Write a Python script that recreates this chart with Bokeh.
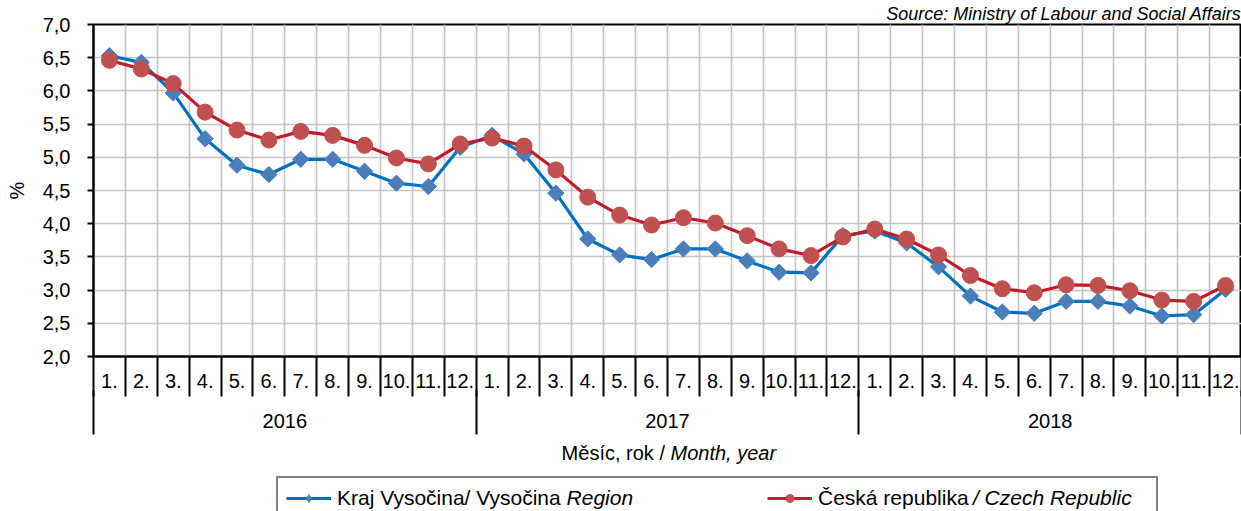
import numpy as np
from bokeh.plotting import figure
from bokeh.layouts import column
from bokeh.models import (Range1d, LinearAxis, FixedTicker, Grid, Legend, LegendItem,
                          Label, CustomJSTickFormatter)
from bokeh.embed import file_html
from bokeh.resources import INLINE

# ---------------- data ----------------
years = ["2016", "2017", "2018"]
months = ["1.", "2.", "3.", "4.", "5.", "6.", "7.", "8.", "9.", "10.", "11.", "12."]
vysocina = [6.53, 6.43, 5.97, 5.28, 4.88, 4.74, 4.97, 4.97, 4.79, 4.61, 4.56, 5.15,
            5.33, 5.05, 4.46, 3.77, 3.53, 3.46, 3.62, 3.62, 3.44, 3.27, 3.26, 3.82,
            3.89, 3.71, 3.35, 2.91, 2.67, 2.65, 2.83, 2.83, 2.76, 2.61, 2.63, 3.01]
czech = [6.46, 6.33, 6.11, 5.68, 5.41, 5.26, 5.39, 5.33, 5.18, 4.99, 4.90, 5.20,
         5.29, 5.17, 4.81, 4.40, 4.13, 3.98, 4.09, 4.01, 3.82, 3.62, 3.52, 3.80,
         3.92, 3.77, 3.53, 3.22, 3.02, 2.96, 3.08, 3.07, 2.99, 2.85, 2.83, 3.07]
y_ticks = [2.0, 2.5, 3.0, 3.5, 4.0, 4.5, 5.0, 5.5, 6.0, 6.5, 7.0]
# series names: upright part, italic part
series_upright = ["Kraj Vysočina/ Vysočina", "Česká republika"]
series_italic = ["Region", "/ Czech Republic"]
x_title = ["Měsíc, rok / ", "Month, year"]
y_title = "%"
source_text = "Source: Ministry of Labour and Social Affairs"

FONT = "Liberation Sans"
FS = "20px"
LEG_FS = 21
BLUE_LINE, BLUE_MARK = "#0070C0", "#4A7EBB"
RED_LINE, RED_MARK = "#C21A2C", "#C0504D"
n = len(vysocina)
n_years = len(years)
per_year = len(months)
month_labels = months * n_years
x = np.arange(n) + 0.5
boundaries = list(range(n + 1))
year_centers = [per_year * i + per_year / 2 for i in range(n_years)]
year_bounds = [per_year * i for i in range(n_years + 1)]

# Arial / Liberation Sans advance widths (per 1000 em) for the upright legend parts
ADV = {"K": 667, "r": 333, "a": 556, "j": 222, " ": 278, "V": 667, "y": 500, "s": 500,
       "o": 556, "č": 500, "i": 222, "n": 556, "/": 278, "Č": 722, "e": 556, "k": 500,
       "á": 556, "p": 556, "u": 556, "b": 556, "l": 222}


def text_width(s, size):
    return sum(ADV.get(ch, 556) for ch in s) / 1000.0 * size


p = figure(frame_width=1148, frame_height=332,
           x_range=Range1d(0, n), y_range=Range1d(y_ticks[0], y_ticks[-1]),
           output_backend="svg", toolbar_location=None,
           x_axis_location=None, y_axis_location=None,
           min_border_left=93, min_border_top=24, min_border_right=0, min_border_bottom=80)
p.background_fill_color = "white"
p.border_fill_color = "white"
p.outline_line_color = "black"
p.outline_line_width = 2

# source line as the title, right aligned
p.title.text = source_text
p.title.align = "right"
p.title.text_font = FONT
p.title.text_font_size = "18px"
p.title.text_font_style = "italic"
p.title.text_color = "black"
p.title.standoff = 1
p.title.offset = 0

# grids
p.add_layout(Grid(dimension=0, ticker=FixedTicker(ticks=boundaries),
                  grid_line_color="#c4c4c4", grid_line_width=1.6))
p.add_layout(Grid(dimension=1, ticker=FixedTicker(ticks=y_ticks),
                  grid_line_color="#c4c4c4", grid_line_width=1.6))

# y axis
yax = LinearAxis(ticker=FixedTicker(ticks=y_ticks),
                 formatter=CustomJSTickFormatter(code="return tick.toFixed(1).replace('.', ',');"),
                 axis_label=y_title)
yax.axis_line_color = "black"
yax.axis_line_width = 2
yax.major_tick_out = 6
yax.major_tick_in = 0
yax.major_tick_line_width = 2
yax.minor_tick_line_color = None
yax.major_label_standoff = 17
yax.major_label_text_font = FONT
yax.major_label_text_font_size = FS
yax.major_label_text_color = "black"
yax.axis_label_text_font = FONT
yax.axis_label_text_font_size = FS
yax.axis_label_text_font_style = "normal"
yax.axis_label_text_color = "black"
yax.axis_label_standoff = 12
p.add_layout(yax, "left")

# month axis
max_ = LinearAxis(ticker=FixedTicker(ticks=list(x), minor_ticks=boundaries),
                  formatter=CustomJSTickFormatter(args=dict(labels=month_labels),
                                                  code="return labels[Math.floor(tick)];"))
max_.axis_line_color = "black"
max_.axis_line_width = 2
max_.major_tick_out = 0
max_.major_tick_in = 0
max_.major_tick_line_color = None
max_.minor_tick_out = 40
max_.minor_tick_in = 0
max_.minor_tick_line_color = "black"
max_.minor_tick_line_width = 2
max_.major_label_standoff = -23
max_.major_label_text_font = FONT
max_.major_label_text_font_size = FS
max_.major_label_text_color = "black"
p.add_layout(max_, "below")

# year axis
yrax = LinearAxis(ticker=FixedTicker(ticks=year_centers, minor_ticks=year_bounds),
                  formatter=CustomJSTickFormatter(args=dict(labels=years, per=per_year),
                                                  code="return labels[Math.floor(tick / per)];"))
yrax.axis_line_color = None
yrax.major_tick_out = 0
yrax.major_tick_in = 0
yrax.major_tick_line_color = None
yrax.minor_tick_out = 44
yrax.minor_tick_in = 0
yrax.minor_tick_line_color = "black"
yrax.minor_tick_line_width = 2
yrax.major_label_standoff = -21
yrax.major_label_text_font = FONT
yrax.major_label_text_font_size = FS
yrax.major_label_text_color = "black"
p.add_layout(yrax, "below")

# series
blue_line = p.line(x, vysocina, line_color=BLUE_LINE, line_width=3.2)
blue_pts = p.scatter(x, vysocina, marker="square", angle=np.pi / 4, size=11.5,
                     fill_color=BLUE_MARK, line_color=BLUE_MARK)
red_line = p.line(x, czech, line_color=RED_LINE, line_width=3.2)
red_pts = p.scatter(x, czech, marker="circle", size=16,
                    fill_color=RED_MARK, line_color=RED_MARK)

# ---------------- bottom strip: axis title + legend ----------------
# (its frame is aligned with the chart frame, which starts 93 px from the left)
q = figure(width=1241, height=75, output_backend="svg", toolbar_location=None, title=None,
           x_axis_location=None, y_axis_location=None, min_border=0)
q.background_fill_color = "white"
q.border_fill_color = "white"
q.outline_line_color = None

TITLE_SPLIT = 577
q.add_layout(Label(x=TITLE_SPLIT, y=59, x_units="screen", y_units="screen", text=x_title[0],
                   text_align="right", text_baseline="middle",
                   text_font=FONT, text_font_size=FS, text_color="black"))
q.add_layout(Label(x=TITLE_SPLIT, y=59, x_units="screen", y_units="screen", text=x_title[1],
                   text_align="left", text_baseline="middle", text_font_style="italic",
                   text_font=FONT, text_font_size=FS, text_color="black"))

# legend samples (style only, no visible data)
nan = np.array([np.nan])
lb_line = q.line(nan, nan, line_color=BLUE_LINE, line_width=3.2)
lb_pts = q.scatter(nan, nan, marker="diamond", size=14,
                   fill_color=BLUE_MARK, line_color=BLUE_MARK)
lr_line = q.line(nan, nan, line_color=RED_LINE, line_width=3.2)
lr_pts = q.scatter(nan, nan, marker="circle", size=16, fill_color=RED_MARK, line_color=RED_MARK)

LEG_X = 183
PAD, GW, STANDOFF, LW, SPACING = 8, 45, 6, 330, 100
legend = Legend(items=[LegendItem(label=series_upright[0], renderers=[lb_line, lb_pts]),
                       LegendItem(label=series_upright[1], renderers=[lr_line, lr_pts])],
                orientation="horizontal", location=(LEG_X, -9))
legend.margin = 0
legend.padding = PAD
legend.spacing = SPACING
legend.glyph_width = GW
legend.glyph_height = 20
legend.label_standoff = STANDOFF
legend.label_width = LW
legend.label_text_font = FONT
legend.label_text_font_size = f"{LEG_FS}px"
legend.label_text_color = "black"
legend.border_line_color = "black"
legend.border_line_width = 2
legend.background_fill_alpha = 0
q.add_layout(legend, "center")

# italic tails of the legend labels
label_starts = [LEG_X + PAD + GW + STANDOFF,
                LEG_X + PAD + GW + STANDOFF + LW + SPACING + GW + STANDOFF]
for start, up, it in zip(label_starts, series_upright, series_italic):
    q.add_layout(Label(x=start + text_width(up + " ", LEG_FS), y=14,
                       x_units="screen", y_units="screen", text=it,
                       text_align="left", text_baseline="middle", text_font_style="italic",
                       text_font=FONT, text_font_size=f"{LEG_FS}px", text_color="black"))

layout = column(p, q, spacing=0)
open("out.html", "w").write(file_html(layout, INLINE))
